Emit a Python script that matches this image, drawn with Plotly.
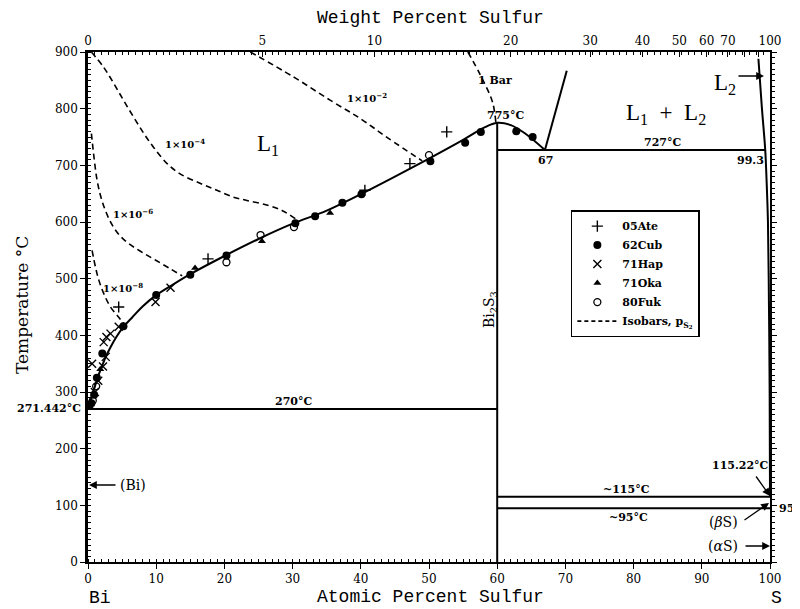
import plotly.graph_objects as go

# ---------------- data ----------------
# liquidus (Bi side) : at.% S , T (°C)
liq_x = [0, 0.4, 0.9, 1.4, 2.0, 2.6, 3.3, 4.2, 5.2, 6.5, 8.0, 10, 12.5, 15, 20, 25, 30, 35, 40, 45, 50, 55, 58, 60, 62, 64, 67]
liq_t = [271.442, 285, 305, 325, 344, 362, 379, 398, 415, 432, 451, 471, 490, 508, 540, 570, 597, 620, 649, 680, 712, 745, 766, 775, 771, 757, 727]
# liquidus above monotectic
liq2_x = [67, 70.2]
liq2_t = [727, 867]
# L2 boundary near S
s_x = [98.3, 98.8, 99.3, 99.5, 99.7, 99.85, 99.95, 100]
s_t = [888, 803, 727, 673, 600, 450, 300, 115.22]
# invariant lines
bi2s3_x = [60, 60]
bi2s3_t = [0, 775]
eut_x = [0, 60]
eut_t = [270, 270]
mono_x = [60, 99.3]
mono_t = [727, 727]
l115_x = [60, 100]
l115_t = [115, 115]
l95_x = [60, 100]
l95_t = [95, 95]

# isobars (dashed)
iso_1bar_x = [55.7, 57.5, 59.3, 59.8]
iso_1bar_t = [900, 860, 812, 776]
iso_e2_x = [23.8, 30, 35.5, 40, 44, 49.0]
iso_e2_t = [900, 857, 815, 782, 748, 708]
iso_e4_x = [0.5, 2.3, 3.8, 5.2, 6.7, 8.2, 9.6, 11.6, 13.5, 16.5, 18.9, 21.3, 23.3, 26.2, 28.5, 30.4]
iso_e4_t = [900, 873, 844, 815, 785, 756, 732, 703, 685, 668, 656, 644, 638, 630, 620, 606]
iso_e6_x = [0.5, 0.9, 1.3, 1.8, 2.4, 3.1, 3.9, 4.9, 6.2, 8.0, 10.0, 12.0, 13.8]
iso_e6_t = [756, 712, 676, 648, 625, 605, 588, 573, 560, 546, 532, 518, 505]
iso_e8_x = [0.6, 1.1, 1.6, 2.3, 3.3, 4.5, 5.4]
iso_e8_t = [550, 520, 497, 474, 450, 432, 418]

# experimental points
ate_x = [4.5, 17.6, 40.6, 47.2, 52.6]
ate_t = [450, 535, 656, 703, 759]
cub_x = [0.5, 0.9, 1.3, 2.1, 5.2, 10, 15, 20.3, 30.4, 33.3, 37.3, 40.1, 50.2, 55.3, 57.6, 62.8, 65.2]
cub_t = [280, 295, 325, 368, 416, 471, 507, 541, 598, 610, 634, 649, 707, 740, 759, 760, 750]
hap_x = [0.6, 1.0, 1.5, 2.2, 2.6, 2.3, 2.7, 3.3, 4.5, 9.9, 12.1]
hap_t = [350, 300, 320, 345, 362, 388, 397, 403, 415, 459, 484]
oka_x = [0.4, 1.8, 15.7, 25.5, 35.5]
oka_t = [272, 340, 519, 566, 616]
fuk_x = [0.7, 1.2, 20.3, 25.3, 30.2, 50.0]
fuk_t = [285, 310, 529, 577, 591, 718]

# axes
bottom_ticks = [0, 10, 20, 30, 40, 50, 60, 70, 80, 90, 100]
left_ticks = [0, 100, 200, 300, 400, 500, 600, 700, 800, 900]
wt_ticks = [0, 5, 10, 20, 30, 40, 50, 60, 70, 80, 90, 100]
wt_labels = ["0", "5", "10", "20", "30", "40", "50", "60", "70", "", "", "100"]

M_S, M_BI = 32.06, 208.98


def wt_to_at(w):
    if w >= 100:
        return 100.0
    a = w / M_S
    b = (100 - w) / M_BI
    return 100 * a / (a + b)


wt_pos = [wt_to_at(w) for w in wt_ticks]

# ---------------- figure ----------------
fig = go.Figure()
BLK = "black"


def line(x, y, dash="solid", w=2, shape="linear"):
    fig.add_trace(go.Scatter(x=x, y=y, mode="lines", line=dict(color=BLK, width=w, dash=dash, shape=shape),
                             showlegend=False, hoverinfo="skip"))


line(liq_x, liq_t, shape="spline")
line(liq2_x, liq2_t)
line(s_x, s_t, shape="spline")
line(bi2s3_x, bi2s3_t)
line(eut_x, eut_t)
line(mono_x, mono_t)
line(l115_x, l115_t)
line(l95_x, l95_t)
for ix, it in [(iso_1bar_x, iso_1bar_t), (iso_e2_x, iso_e2_t), (iso_e4_x, iso_e4_t),
               (iso_e6_x, iso_e6_t), (iso_e8_x, iso_e8_t)]:
    line(ix, it, dash="6px,4px", w=1.6, shape="spline")


def pts(x, y, name, symbol, size=8, lw=1.5):
    fig.add_trace(go.Scatter(x=x, y=y, mode="markers", name=name,
                             marker=dict(symbol=symbol, size=size, color=BLK,
                                         line=dict(color=BLK, width=lw)),
                             hoverinfo="skip"))


pts(ate_x, ate_t, "<b>05Ate</b>", "cross-thin", 8, 1.4)
pts(cub_x, cub_t, "<b>62Cub</b>", "circle", 8, 0)
pts(hap_x, hap_t, "<b>71Hap</b>", "x-thin", 8, 1.4)
pts(oka_x, oka_t, "<b>71Oka</b>", "triangle-up", 7, 0)
pts(fuk_x, fuk_t, "<b>80Fuk</b>", "circle-open", 7, 1.3)
fig.add_trace(go.Scatter(x=[None], y=[None], mode="lines",
                         name="<b>Isobars, p<sub>S<sub>2</sub></sub></b>",
                         line=dict(color=BLK, width=1.6, dash="4px,3px")))

TF = dict(family="DejaVu Serif", size=12, color=BLK)
# the page body adds an 8px offset, compensated in the margins
fig.update_layout(
    width=800, height=609,
    margin=dict(l=80, r=38, t=44, b=55, autoexpand=False),
    plot_bgcolor="white", paper_bgcolor="white",
    showlegend=True,
    legend=dict(x=0.708, y=0.69, xanchor="left", yanchor="top",
                bgcolor="white", bordercolor=BLK, borderwidth=1.5,
                font=dict(family="DejaVu Serif", size=11, color=BLK), tracegroupgap=0,
                itemwidth=40),
    xaxis=dict(range=[0, 100], tickvals=bottom_ticks, showgrid=False, zeroline=False,
               showline=True, linecolor=BLK, linewidth=1.5, ticks="outside", ticklen=5,
               tickwidth=1.2, tickcolor=BLK, tickfont=TF, automargin=False,
               minor=dict(tickvals=list(range(0, 101)), ticks="inside", ticklen=3,
                          tickcolor=BLK, tickwidth=1)),
    xaxis2=dict(range=[0, 100], overlaying="x", side="top", tickvals=wt_pos, ticktext=wt_labels,
                showgrid=False, zeroline=False, showline=True, linecolor=BLK, linewidth=1.5,
                ticks="inside", ticklen=5, tickwidth=1.2, tickcolor=BLK, tickfont=TF,
                automargin=False,
                minor=dict(tickvals=list(range(0, 101)), ticks="inside", ticklen=3,
                           tickcolor=BLK, tickwidth=1)),
    yaxis=dict(range=[0, 900], tickvals=left_ticks, showgrid=False, zeroline=False,
               showline=True, linecolor=BLK, linewidth=2.5, ticks="outside", ticklen=5,
               tickwidth=1.2, tickcolor=BLK, tickfont=TF, automargin=False,
               minor=dict(tickvals=list(range(0, 901, 10)), ticks="inside", ticklen=3,
                          tickcolor=BLK, tickwidth=1)),
    yaxis2=dict(range=[0, 900], overlaying="y", side="right", tickvals=left_ticks,
                showticklabels=False, showgrid=False, zeroline=False, showline=True,
                linecolor=BLK, linewidth=1.5, ticks="outside", ticklen=5, tickwidth=1.2,
                tickcolor=BLK, automargin=False,
                minor=dict(tickvals=list(range(0, 901, 10)), ticks="outside", ticklen=3,
                           tickcolor=BLK, tickwidth=1)),
)
# dummy trace to activate secondary axes
fig.add_trace(go.Scatter(x=[None], y=[None], xaxis="x2", yaxis="y2", showlegend=False, hoverinfo="skip"))


def px(xp, yp):
    return (xp - 88) / 682, (562 - yp) / 510


def label(xp, yp, text, size=11, family="DejaVu Serif", bold=True, xanchor="center", angle=0):
    x, y = px(xp, yp)
    t = f"<b>{text}</b>" if bold else text
    fig.add_annotation(x=x, y=y, xref="paper", yref="paper", text=t, showarrow=False,
                       xanchor=xanchor, yanchor="middle", textangle=angle,
                       font=dict(family=family, size=size, color=BLK))


MONO = "Liberation Mono"
label(430, 18, "Weight Percent Sulfur", 18, MONO, False)
label(430, 597, "Atomic Percent Sulfur", 18, MONO, False)
label(100, 598, "Bi", 18, MONO, False)
label(776, 598, "S", 18, MONO, False)
label(22, 305, "Temperature °C", 17, "DejaVu Serif", False, angle=-90)

label(268, 145, "L<sub>1</sub>", 23, "Liberation Serif", False)
label(666, 114, "L<sub>1</sub>  +  L<sub>2</sub>", 23, "Liberation Serif", False)
label(725, 84, "L<sub>2</sub>", 23, "Liberation Serif", False)

label(505, 115, "775°C", 11)
label(545, 160, "67", 11)
label(662, 142, "727°C", 11)
label(750, 160, "99.3", 11)
label(293, 401, "270°C", 11)
label(83, 408, "271.442°C", 11, xanchor="right")
label(626, 489, "~115°C", 11)
label(628, 517, "~95°C", 11)
label(740, 465, "115.22°C", 11)
label(777, 508, "95.5", 11, xanchor="left")
label(723, 522, "(<i>β</i>S)", 14, "DejaVu Serif", False)
label(723, 546, "(<i>α</i>S)", 14, "DejaVu Serif", False)
label(133, 485, "(Bi)", 14, "DejaVu Serif", False)
label(490, 310, "Bi<sub>2</sub>S<sub>3</sub>", 14, "DejaVu Serif", False, angle=-90)

label(495, 80, "1 Bar", 11)
label(367, 97, "1×10<sup>−2</sup>", 10)
label(185, 143, "1×10<sup>−4</sup>", 10)
label(133, 213, "1×10<sup>−6</sup>", 10)
label(123, 287, "1×10<sup>−8</sup>", 10)


def arrow(xh, yh, xt, yt):
    hx, hy = px(xh, yh)
    fig.add_annotation(x=hx, y=hy, ax=xt - xh, ay=yt - yh, xref="paper", yref="paper",
                       axref="pixel", ayref="pixel", text="", showarrow=True,
                       arrowhead=2, arrowsize=1.2, arrowwidth=1.3, arrowcolor=BLK)


arrow(764, 76, 737, 76)
arrow(89, 485, 117, 485)
arrow(770, 496, 755, 475)
arrow(769, 503, 743, 521)
arrow(770, 546, 744, 546)

fig.write_html("out.html")
